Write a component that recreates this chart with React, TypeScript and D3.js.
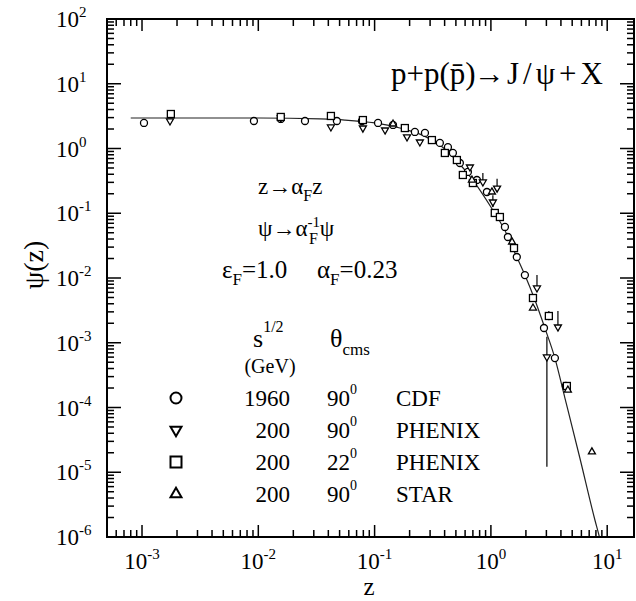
import React from 'react';
import * as d3 from 'd3';

const W = 636;
const H = 601;

// fit curve
const curveZ = [8.0e-4, 3.15e-3, 0.0103, 0.0339, 0.0555, 0.1006, 0.165, 0.245, 0.364, 0.5, 0.7, 1.0, 1.32, 1.67, 1.96, 2.39, 2.91, 3.55, 4.33, 5.82, 7.84, 8.57, 9.3];
const curvePsi = [2.96, 2.96, 2.96, 2.86, 2.75, 2.48, 2.07, 1.67, 1.13, 0.664, 0.326, 0.125, 0.054, 0.0211, 0.0111, 0.00457, 0.00169, 5.8e-4, 1.4e-4, 1.66e-5, 1.83e-6, 1.0e-6, 5.0e-7];

// CDF 1960 GeV, 90 deg (circles)
const cdfZ = [0.00104, 0.00917, 0.0156, 0.0252, 0.0474, 0.0778, 0.107, 0.144, 0.222, 0.271, 0.364, 0.427, 0.471, 0.541, 0.634, 0.758, 0.924, 1.32, 1.40, 1.67, 1.96, 2.86, 3.55, 4.41];
const cdfPsi = [2.48, 2.66, 2.86, 2.66, 2.66, 2.66, 2.48, 2.31, 1.80, 1.74, 1.22, 1.05, 0.853, 0.597, 0.434, 0.326, 0.213, 0.0614, 0.043, 0.0211, 0.0111, 0.00169, 5.8e-4, 2.15e-4];

// PHENIX 200 GeV, 90 deg (down triangles)
const phx90Z = [0.00174, 0.0156, 0.0421, 0.0793, 0.123, 0.19, 0.245, 0.66, 0.853, 1.04, 1.13, 2.49, 3.03, 3.77];
const phx90Psi = [2.66, 2.96, 2.15, 2.07, 1.93, 1.51, 1.26, 0.518, 0.304, 0.149, 0.245, 0.00701, 6.03e-4, 0.00175];
const phx90Lo = [null, null, null, null, null, null, null, null, 0.27, 0.125, 0.22, 0.00701, 1.22e-5, 0.00175];
const phx90Hi = [null, null, null, null, null, null, null, null, 0.42, 0.19, 0.34, 0.0111, 1.24e-3, 0.0031];

// PHENIX 200 GeV, 22 deg (squares)
const phx22Z = [0.00177, 0.0156, 0.0421, 0.0793, 0.182, 0.311, 0.402, 0.51, 0.574, 0.70, 1.08, 1.195, 1.58, 2.30, 3.15, 4.50];
const phx22Psi = [3.41, 3.07, 3.18, 2.75, 2.07, 1.35, 0.853, 0.664, 0.39, 0.293, 0.101, 0.0875, 0.029, 0.00491, 0.00259, 2.15e-4];
const phx22Lo = [null, null, null, null, null, null, null, null, null, null, null, null, null, null, 0.00222, null];
const phx22Hi = [null, null, null, null, null, null, null, null, null, null, null, null, null, null, 0.0031, null];

// STAR 200 GeV, 90 deg (up triangles)
const starZ = [0.144, 0.687, 1.02, 1.52, 2.30, 4.59, 7.39];
const starPsi = [2.39, 0.326, 0.213, 0.036, 0.00344, 1.86e-4, 2.06e-5];

const xTickExps = [-3, -2, -1, 0, 1];
const yTickExps = [2, 1, 0, -1, -2, -3, -4, -5, -6];

const legendMarks = ['circle', 'triDown', 'square', 'triUp'];
const legendEnergy = ['1960', '200', '200', '200'];
const legendAngle = ['90', '90', '22', '90'];
const legendExpt = ['CDF', 'PHENIX', 'PHENIX', 'STAR'];

const FONT = '"Liberation Serif", "Times New Roman", serif';

function Marker({ type, cx, cy, s, sw }: { type: string; cx: number; cy: number; s: number; sw: number }) {
  const common = { fill: 'white', stroke: 'black', strokeWidth: sw };
  if (type === 'circle') return <circle cx={cx} cy={cy} r={s / 2} {...common} />;
  if (type === 'square') return <rect x={cx - s / 2} y={cy - s / 2} width={s} height={s} {...common} />;
  const h = (s * Math.sqrt(3)) / 2;
  if (type === 'triUp') {
    const p = `M${cx},${cy - (2 * h) / 3}L${cx + s / 2},${cy + h / 3}L${cx - s / 2},${cy + h / 3}Z`;
    return <path d={p} {...common} />;
  }
  const p = `M${cx},${cy + (2 * h) / 3}L${cx + s / 2},${cy - h / 3}L${cx - s / 2},${cy - h / 3}Z`;
  return <path d={p} {...common} />;
}

export default function App() {
  const left = 107, right = 634, top = 19, bottom = 537;
  const x = d3.scaleLog().domain([5e-4, 17]).range([left, right]);
  const y = d3.scaleLog().domain([1e-6, 100]).range([bottom, top]);

  const xMinor: { v: number; major: boolean }[] = [];
  for (let e = -4; e <= 1; e++) {
    for (let m = 1; m <= 9; m++) {
      const v = m * Math.pow(10, e);
      if (v >= 5e-4 * 0.999 && v <= 17) xMinor.push({ v, major: m === 1 });
    }
  }
  const yMinor: { v: number; major: boolean }[] = [];
  for (let e = -6; e <= 2; e++) {
    for (let m = 1; m <= 9; m++) {
      const v = m * Math.pow(10, e);
      if (v >= 1e-6 * 0.999 && v <= 100 * 1.001) yMinor.push({ v, major: m === 1 });
    }
  }
  const MAJ = 12, MIN = 7;

  const line = d3
    .line<number>()
    .x((_, i) => x(curveZ[i]))
    .y((_, i) => y(curvePsi[i]))
    .curve(d3.curveMonotoneX);

  const series = [
    { type: 'circle', z: cdfZ, p: cdfPsi, lo: null as any, hi: null as any },
    { type: 'triDown', z: phx90Z, p: phx90Psi, lo: phx90Lo, hi: phx90Hi },
    { type: 'square', z: phx22Z, p: phx22Psi, lo: phx22Lo, hi: phx22Hi },
    { type: 'triUp', z: starZ, p: starPsi, lo: null as any, hi: null as any },
  ];

  const legendRows = [398, 430, 462, 494];

  return (
    <svg width={W} height={H} style={{ position: 'absolute', left: 0, top: 0, background: 'white' }} fontFamily={FONT}>
      <defs>
        <clipPath id="plot">
          <rect x={left} y={top} width={right - left} height={bottom - top} />
        </clipPath>
      </defs>

      {/* fit curve */}
      <path d={line(curveZ) || ''} fill="none" stroke="#222" strokeWidth={1.2} clipPath="url(#plot)" />

      {/* error bars */}
      {series.map((s, si) =>
        s.lo
          ? s.z.map((z, i) =>
              s.lo[i] != null ? (
                <line key={`e${si}-${i}`} x1={x(z)} x2={x(z)} y1={y(s.lo[i])} y2={y(s.hi[i])} stroke="black" strokeWidth={1.2} />
              ) : null
            )
          : null
      )}

      {/* data markers */}
      {series.map((s, si) =>
        s.z.map((z, i) => <Marker key={`m${si}-${i}`} type={s.type} cx={x(z)} cy={y(s.p[i])} s={7} sw={1.3} />)
      )}

      {/* frame */}
      <rect x={left} y={top} width={right - left} height={bottom - top} fill="none" stroke="black" strokeWidth={2} />

      {/* x ticks */}
      {xMinor.map((t, i) => {
        const px = x(t.v);
        const l = t.major ? MAJ : MIN;
        return (
          <g key={`xt${i}`} stroke="black" strokeWidth={1.5}>
            <line x1={px} x2={px} y1={bottom} y2={bottom - l} />
            <line x1={px} x2={px} y1={top} y2={top + l} />
          </g>
        );
      })}
      {/* y ticks */}
      {yMinor.map((t, i) => {
        const py = y(t.v);
        const l = t.major ? MAJ + 2 : MIN;
        return (
          <g key={`yt${i}`} stroke="black" strokeWidth={1.5}>
            <line x1={left} x2={left + l} y1={py} y2={py} />
            <line x1={right} x2={right - l} y1={py} y2={py} />
          </g>
        );
      })}

      {/* x tick labels */}
      {xTickExps.map((e) => (
        <text key={`xl${e}`} x={x(Math.pow(10, e))} y={569} fontSize={23} textAnchor="middle">
          10
          <tspan dy={-10} fontSize={15}>
            {e}
          </tspan>
        </text>
      ))}
      {/* y tick labels */}
      {yTickExps.map((e) => (
        <text key={`yl${e}`} x={56} y={y(Math.pow(10, e)) + 8} fontSize={23} textAnchor="start">
          10
          <tspan dy={-10} fontSize={15}>
            {e}
          </tspan>
        </text>
      ))}

      {/* axis titles */}
      <text x={369} y={595} fontSize={25} textAnchor="middle">z</text>
      <text transform="translate(43,265) rotate(-90)" fontSize={28} textAnchor="middle">ψ(z)</text>

      {/* title */}
      <text x={391} y={84} fontSize={31}>{'p+p(p\u0304)'}</text>
      <text x={474} y={84} fontSize={31}>→</text>
      <text x={507} y={84} fontSize={31} letterSpacing={4}>J/ψ+X</text>

      {/* scaling annotations */}
      <text x={258} y={194} fontSize={23}>
        z→α<tspan dy={7} fontSize={16}>F</tspan>
        <tspan dy={-7}>z</tspan>
      </text>
      <text x={258} y={236} fontSize={23}>
        ψ→α<tspan dy={-9} fontSize={15}>-1</tspan>
        <tspan dx={-11} dy={17} fontSize={16}>F</tspan>
        <tspan dx={2} dy={-8}>ψ</tspan>
      </text>
      <text x={222} y={278} fontSize={25}>
        ε<tspan dy={7} fontSize={17}>F</tspan>
        <tspan dy={-7}>=1.0</tspan>
      </text>
      <text x={317} y={278} fontSize={25}>
        α<tspan dy={7} fontSize={17}>F</tspan>
        <tspan dy={-7}>=0.23</tspan>
      </text>

      {/* legend header */}
      <text x={253} y={347} fontSize={26}>
        s<tspan dy={-15} fontSize={16}>1/2</tspan>
      </text>
      <text x={330} y={347} fontSize={26}>
        θ<tspan dy={8} fontSize={17}>cms</tspan>
      </text>
      <text x={270} y={373} fontSize={20} textAnchor="middle">(GeV)</text>

      {/* legend rows */}
      {legendMarks.map((m, i) => (
        <g key={`lg${i}`}>
          <Marker type={m} cx={176} cy={legendRows[i]} s={11} sw={2} />
          <text x={290} y={legendRows[i] + 8} fontSize={23} textAnchor="end">{legendEnergy[i]}</text>
          <text x={327} y={legendRows[i] + 8} fontSize={23}>
            {legendAngle[i]}
            <tspan dy={-12} fontSize={14}>0</tspan>
          </text>
          <text x={396} y={legendRows[i] + 8} fontSize={23}>{legendExpt[i]}</text>
        </g>
      ))}
    </svg>
  );
}
